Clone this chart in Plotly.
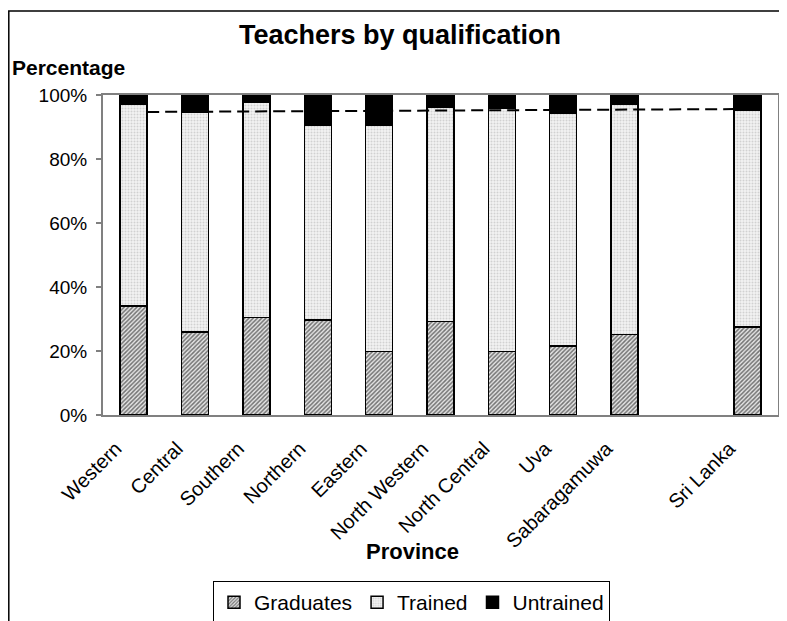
import plotly.graph_objects as go

categories = ["Western", "Central", "Southern", "Northern", "Eastern", "North Western",
              "North Central", "Uva", "Sabaragamuwa", " ", "Sri Lanka"]
graduates = [34.0, 26.0, 30.4, 29.7, 19.8, 29.2, 19.8, 21.6, 25.1, None, 27.5]
trained = [63.2, 68.7, 67.2, 60.9, 70.8, 67.1, 76.0, 72.6, 72.0, None, 67.8]
untrained = [2.8, 5.3, 2.4, 9.4, 9.4, 3.7, 4.2, 5.8, 2.9, None, 4.7]
ref_line = [94.7, 95.6]
y_ticks = [0, 20, 40, 60, 80, 100]
y_tick_labels = ["0%", "20%", "40%", "60%", "80%", "100%"]

FONT = "Arial, Liberation Sans, sans-serif"
OFF = 8  # page body margin
W, H = 787 - OFF, 621 - OFF
L, R, T, B = 103 - OFF, 9, 95 - OFF, 206
pw, ph = W - L - R, H - T - B

def px_x(p):
    return (p - OFF - L) / pw

def px_y(p):
    return (H - B - (p - OFF)) / ph

fig = go.Figure()
fig.add_bar(x=categories, y=graduates, name="Graduates", width=0.44,
            marker=dict(color="white", line=dict(color="black", width=1.5),
                        pattern=dict(shape="/", fgcolor="black", bgcolor="#e6e6e6",
                                     size=3, solidity=0.5)))
fig.add_bar(x=categories, y=trained, name="Trained", width=0.44,
            marker=dict(color="white", line=dict(color="black", width=1.5),
                        pattern=dict(shape=".", fgcolor="#b0b0b0", bgcolor="#f2f2f2",
                                     size=3, solidity=0.35)))
fig.add_bar(x=categories, y=untrained, name="Untrained", width=0.44,
            marker=dict(color="black", line=dict(color="black", width=1.5)))

# dashed reference line from first to last bar
fig.add_shape(type="line", xref="x", yref="y", x0=0.22, x1=len(categories) - 1 - 0.22,
              y0=ref_line[0], y1=ref_line[1],
              line=dict(color="black", width=2, dash="12px,6px"), layer="above")

# outer frame
fig.add_shape(type="rect", xref="paper", yref="paper",
              x0=px_x(8.8), x1=px_x(800), y0=px_y(11), y1=px_y(640),
              line=dict(color="black", width=1.5))

fig.update_layout(
    width=W, height=H, barmode="stack", bargap=0.56,
    margin=dict(l=L, r=R, t=T, b=B, autoexpand=False),
    paper_bgcolor="white", plot_bgcolor="white",
    font=dict(family=FONT, size=19, color="black"),
    showlegend=True,
    legend=dict(orientation="h", x=px_x(213), y=px_y(581), xanchor="left", yanchor="top",
                bordercolor="black", borderwidth=1, bgcolor="white",
                font=dict(size=21, family=FONT), traceorder="normal"),
    xaxis=dict(categoryorder="array", categoryarray=categories, tickangle=-45,
               showline=True, linecolor="#808080", linewidth=2, mirror=True,
               ticks="", tickfont=dict(size=20), showgrid=False,
               ticklabelstandoff=12, ticklabelshift=-18),
    yaxis=dict(range=[0, 100], tickvals=y_ticks, ticktext=y_tick_labels, showline=True,
               linecolor="#808080", linewidth=2, mirror=True, ticks="outside",
               ticklen=5, tickcolor="#808080", tickwidth=2, showgrid=False,
               tickfont=dict(size=19), zeroline=False, ticklabelstandoff=5),
    annotations=[
        dict(text="<b>Teachers by qualification</b>", xref="paper", yref="paper",
             x=px_x(400), y=px_y(35), xanchor="center", yanchor="middle",
             showarrow=False, font=dict(size=27, family=FONT)),
        dict(text="<b>Percentage</b>", xref="paper", yref="paper",
             x=px_x(10), y=px_y(68), xanchor="left", yanchor="middle",
             showarrow=False, font=dict(size=21, family=FONT)),
        dict(text="<b>Province</b>", xref="paper", yref="paper",
             x=px_x(412), y=px_y(551), xanchor="center", yanchor="middle",
             showarrow=False, font=dict(size=22, family=FONT)),
    ],
)

fig.write_html("out.html")
